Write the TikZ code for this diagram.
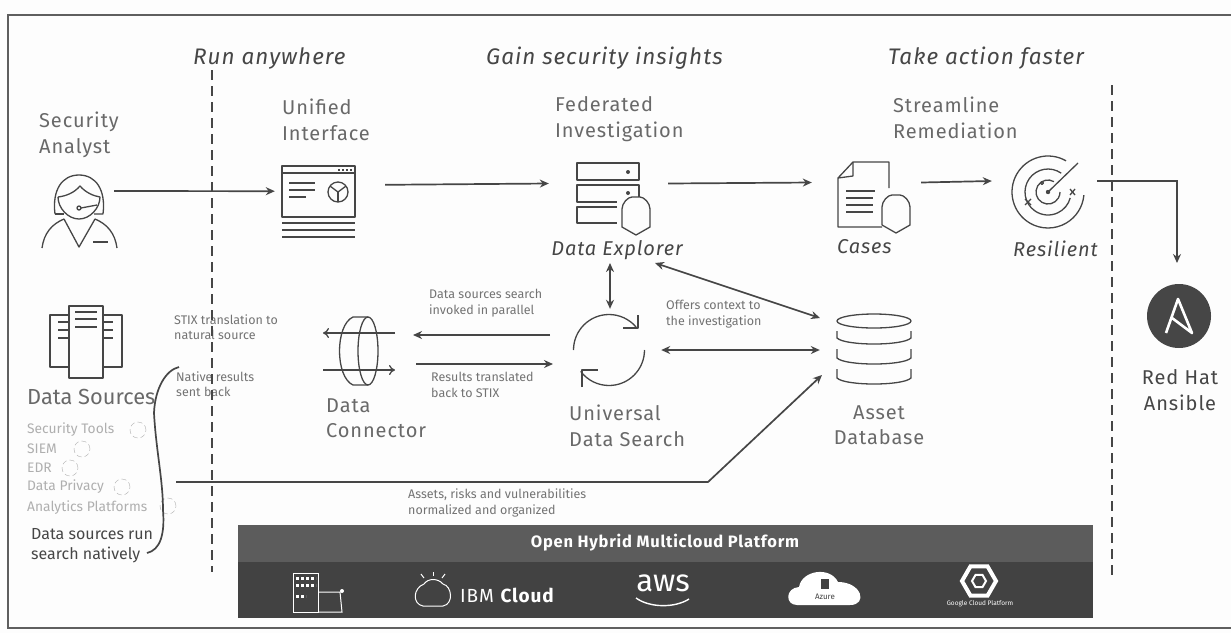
\documentclass[tikz,border=0pt]{standalone}
\usepackage{fontspec}
\setmainfont{Fira Sans}
\newfontfamily\widefont[LetterSpace=4.5]{Fira Sans}
\usetikzlibrary{arrows.meta}
\usetikzlibrary{shapes.geometric}
\definecolor{paper}{RGB}{253,253,253}
\definecolor{frame}{RGB}{95,95,95}
\definecolor{ink}{RGB}{70,70,70}
\definecolor{caption}{RGB}{105,105,105}
\definecolor{note}{RGB}{115,115,115}
\definecolor{faint}{RGB}{175,175,175}
\definecolor{bandtop}{RGB}{92,92,92}
\definecolor{bandlow}{RGB}{66,66,66}
\tikzset{
	heading/.style={font=\widefont\fontsize{22.5}{25}\selectfont\itshape,text=ink,inner sep=0pt},
	caption/.style={font=\widefont\fontsize{20}{25.5}\selectfont,text=caption,align=left,inner sep=0pt},
	tool/.style={font=\widefont\fontsize{20}{24}\selectfont\itshape,text=ink,inner sep=0pt},
	note/.style={font=\fontsize{12.5}{15.5}\selectfont,text=note,align=left,inner sep=0pt},
	source/.style={font=\fontsize{13.8}{15}\selectfont,text=faint,inner sep=0pt},
	spin/.style={draw=faint,dashed,dash pattern=on 5pt off 3pt,circle,minimum size=16pt,inner sep=0pt},
	spot/.style={inner sep=0pt,minimum width=#1,minimum height=6pt},
	icon/.style={draw=ink,line width=1.3pt,line join=round},
	flow/.style={draw=ink,line width=1.7pt,-{Stealth[length=9pt,width=8pt]}},
	both/.style={draw=ink,line width=1.7pt,{Stealth[length=9pt,width=8pt]}-{Stealth[length=9pt,width=8pt]}},
	split/.style={draw=ink,line width=1.8pt,dash pattern=on 10pt off 6pt},
	shield/.pic={
		\draw[icon,fill=paper] (0,-19) -- (14,-11) -- (14,7) .. controls (14,13) and (8,19) .. (4,19) -- (-4,19) .. controls (-8,19) and (-14,13) .. (-14,7) -- (-14,-11) -- cycle;
	}
}

\begin{document}
\begin{tikzpicture}[x=1pt,y=1pt,yscale=-1]
	\fill[paper] (0,0) rectangle (1231,633);
	\useasboundingbox (0,0) rectangle (1231,633);
	\draw[frame,line width=2.2pt] (1231,15) -- (8,15) -- (8,628) -- (1231,628);

	\node[heading,anchor=west] (Run) at (193,58) {Run anywhere};
	\node[heading,anchor=west] (Gain) at (486,58) {Gain security insights};
	\node[heading,anchor=west] (Take) at (888,58) {Take action faster};

	\node[caption,anchor=west] (AnalystT) at (39,135) {Security\\Analyst};
	\node[caption,anchor=west] (UnifiedT) at (282,120) {Unified\\Interface};
	\node[caption,anchor=west] (ExplorerT) at (555,119) {Federated\\Investigation};
	\node[caption,anchor=west] (CasesT) at (893,118) {Streamline\\Remediation};
	\node[tool] (ExplorerN) at (617,250) {Data Explorer};
	\node[tool,anchor=west] (CasesN) at (837,247) {Cases};
	\node[tool,anchor=west] (ResilientN) at (1013,249) {Resilient};
	\node[caption,anchor=west] (ConnectorT) at (326,418) {Data\\Connector};
	\node[caption,anchor=west] (SearchT) at (569,426) {Universal\\Data Search};
	\node[caption,align=center] (AssetT) at (879,425) {Asset\\Database};
	\node[caption,align=center,text=ink] (AnsibleT) at (1180,390) {Red Hat\\Ansible};
	\node[caption,anchor=west,font=\fontsize{21.8}{25}\selectfont] (SourcesT) at (27,397) {Data Sources};

	\node[note,anchor=west] (StixN) at (174,327) {STIX translation to\\natural source};
	\node[note,anchor=west] (NativeN) at (176,384) {Native results\\sent back};
	\node[note,anchor=west] (InvokeN) at (429,303) {Data sources search\\invoked in parallel};
	\node[note,anchor=west] (BackN) at (431,385) {Results translated\\back to STIX};
	\node[note,anchor=west] (OfferN) at (666,314) {Offers context to\\the investigation};
	\node[note,anchor=west] (RiskN) at (408,503) {Assets, risks and vulnerabilities\\normalized and organized};
	\node[caption,anchor=west,text=ink,font=\fontsize{16}{20}\selectfont] (NativeT) at (31,546) {Data sources run\\search natively};

	\node[source,anchor=west] (Tools) at (27,430) {Security Tools};
	\node[source,anchor=west] (Siem) at (27,449) {SIEM};
	\node[source,anchor=west] (Edr) at (27,468) {EDR};
	\node[source,anchor=west] (Privacy) at (27,487) {Data Privacy};
	\node[source,anchor=west] (Platforms) at (27,508) {Analytics Platforms};
	\node[spin] (ToolsS) at (138,430) {};
	\node[spin] (SiemS) at (82,449) {};
	\node[spin] (EdrS) at (70,468) {};
	\node[spin] (PrivacyS) at (122,487) {};
	\node[spin] (PlatformsS) at (168,506) {};

	\draw[split] (212,70) -- (212,572);
	\draw[split] (1112,85) -- (1112,577);

	% analyst
	\draw[icon] (55,214) .. controls (52,190) and (62,175) .. (79,175) .. controls (96,175) and (106,190) .. (103,214) -- (94,214);
	\draw[icon] (55,214) -- (64,214);
	\draw[icon] (58,197) .. controls (66,196) and (74,193) .. (80,186) .. controls (86,193) and (94,196) .. (100,197) .. controls (100,208) and (90,219) .. (79,219) .. controls (68,219) and (58,208) .. (58,197);
	\draw[icon] (42,248) .. controls (44,233) and (52,224) .. (64,219) -- (79,247) -- (95,219) .. controls (107,224) and (115,233) .. (117,248);
	\draw[icon] (93,242) -- (108,242);
	\draw[icon] (81,208) -- (97,205);
	\draw[icon] (79,208) circle (2pt);

	% unified interface
	\draw[icon] (282,166) rectangle (355,217);
	\draw[icon] (282,173) -- (355,173);
	\draw[icon,dash pattern=on 2pt off 2pt] (338,170) -- (353,170);
	\draw[icon] (289,183) -- (315,183);
	\draw[icon] (289,190) -- (315,190);
	\draw[icon] (289,197) -- (306,197);
	\draw[icon] (338,192) circle (10pt);
	\draw[icon] (338,192) -- (330,186);
	\draw[icon] (338,192) -- (346,186);
	\draw[icon] (338,192) -- (338,202);
	\draw[icon] (282,223) -- (355,223);
	\draw[icon] (282,230) -- (355,230);
	\draw[icon] (282,237) -- (355,237);

	% data explorer
	\draw[icon] (577,163) rectangle (639,180);
	\draw[icon] (639,197) -- (639,185) -- (577,185) -- (577,202) -- (617,202);
	\draw[icon] (617,207) -- (577,207) -- (577,223) -- (617,223);
	\fill[ink] (628,172) circle (2pt);
	\fill[ink] (628,193) circle (2pt);
	\pic at (636,216) {shield};

	% cases
	\draw[icon] (889,188) -- (889,162) -- (853,162) -- (838,178) -- (838,227) -- (882,227);
	\draw[icon] (853,162) -- (853,176) -- (838,178);
	\draw[icon] (846,191) -- (875,191);
	\draw[icon] (846,198) -- (873,198);
	\draw[icon] (846,205) -- (873,205);
	\draw[icon] (846,212) -- (873,212);
	\pic at (896,214) {shield};

	% resilient
	\coordinate (Target) at (1048,192);
	\draw[icon] (Target) ++(-60:36) arc[start angle=-60,end angle=-355,radius=36pt];
	\draw[icon] (Target) ++(-55:23) arc[start angle=-55,end angle=-345,radius=23pt];
	\draw[icon] (Target) ++(-60:12) arc[start angle=-60,end angle=-360,radius=12pt];
	\draw[icon] (Target) -- (1078,163);
	\fill[ink] (Target) circle (2.2pt);
	\draw[icon] (1042,183) circle (1.5pt);
	\draw[icon] (1070,189) -- (1075,195);
	\draw[icon] (1075,189) -- (1070,195);
	\draw[icon] (1025,199) -- (1031,205);
	\draw[icon] (1031,199) -- (1025,205);

	% asset database
	\draw[icon] (874,321) ellipse (37pt and 7pt);
	\draw[icon] (837,331) -- (837,338) .. controls (845,346) and (903,346) .. (911,338) -- (911,331);
	\draw[icon] (837,349) -- (837,358) .. controls (845,366) and (903,366) .. (911,358) -- (911,349);
	\draw[icon] (837,369) -- (837,378) .. controls (845,386) and (903,386) .. (911,378) -- (911,369);

	% data connector
	\draw[icon] (368,351) ellipse (10pt and 34pt);
	\draw[icon] (368,317) -- (353,317) .. controls (335,325) and (335,377) .. (353,385) -- (368,385);
	\draw[icon,-{To[length=6pt,width=10pt]}] (395,333) -- (323,333);
	\draw[icon,-{To[length=6pt,width=10pt]}] (323,370) -- (395,370);

	% universal data search
	\draw[icon] (573.5,350) arc[start angle=180,end angle=320,radius=35.5pt];
	\draw[icon] (638,315) -- (638,328) -- (623,328);
	\draw[icon] (644.5,350) arc[start angle=0,end angle=143,radius=35.5pt];
	\draw[icon] (582,387) -- (582,370) -- (598,370);

	% data sources
	\draw[icon] (69,306) rectangle (103,378);
	\draw[icon] (69,315) -- (50,315) -- (50,367) -- (69,367);
	\draw[icon] (103,315) -- (122,315) -- (122,367) -- (103,367);
	\draw[icon] (75,312) -- (97,312);
	\draw[icon] (75,319) -- (97,319);
	\draw[icon] (75,327) -- (97,327);
	\draw[icon] (58,322) -- (69,322);
	\draw[icon] (58,330) -- (69,330);
	\draw[icon] (58,338) -- (69,338);
	\draw[icon] (103,322) -- (113,322);
	\draw[icon] (103,330) -- (113,330);
	\draw[icon] (103,338) -- (113,338);
	\draw[ink,line width=1.7pt] (179,367) .. controls (166,370) and (155,388) .. (154,413) .. controls (156,450) and (163,480) .. (163,510) .. controls (165,535) and (160,550) .. (147,553);

	% ansible
	\node[circle,fill=ink,minimum size=64pt,inner sep=0pt] (Ansible) at (1179,316) {};
	\draw[white,line width=2.6pt,line join=round] (1166,333) -- (1178,299) -- (1192,333) -- (1172,318);

	% band
	\fill[bandlow] (238,525) rectangle (1093,618);
	\fill[bandtop] (238,525) rectangle (1093,562);
	\node[font=\widefont\fontsize{16.5}{19}\selectfont\bfseries,text=white,inner sep=0pt] (Band) at (665,543) {Open Hybrid Multicloud Platform};
	\draw[white,line width=1pt] (293,612) -- (293,573) -- (318,573) -- (318,612) -- cycle;
	\draw[white,line width=3pt,dash pattern=on 3pt off 2pt] (296,578) -- (316,578);
	\draw[white,line width=3pt,dash pattern=on 3pt off 2pt] (296,585) -- (316,585);
	\draw[white,line width=3pt,dash pattern=on 3pt off 2pt] (296,596) -- (306,596);
	\draw[white,line width=1pt] (318,592) -- (340,592) -- (342,612) -- (318,612);
	\fill[white] (342,591) circle (2pt);
	\draw[white,line width=1pt] (424,584) .. controls (428,578) and (438,578) .. (443,584) .. controls (452,586) and (454,604) .. (443,606) -- (423,606) .. controls (412,604) and (413,588) .. (424,584);
	\draw[white,line width=1pt] (433,572) -- (433,576);
	\draw[white,line width=1pt] (421,574) -- (424,578);
	\draw[white,line width=1pt] (445,574) -- (442,578);
	\node[font=\widefont\fontsize{19}{22}\selectfont,text=white,anchor=west,inner sep=0pt] (IbmCloud) at (460,595) {IBM \textbf{Cloud}};
	\node[font=\fontsize{31}{34}\selectfont,text=white,inner sep=0pt] (Aws) at (663,583) {aws};
	\draw[white,line width=1.4pt] (636,598) .. controls (650,608) and (675,608) .. (689,599);
	\fill[white] (797,605) .. controls (785,605) and (785,588) .. (799,587) .. controls (802,570) and (830,566) .. (838,582) .. controls (862,582) and (868,605) .. (850,605) -- cycle;
	\node[font=\fontsize{8}{9}\selectfont,text=bandlow,inner sep=0pt] (Azure) at (825,597) {Azure};
	\fill[bandlow] (821,579) rectangle (829,589);
	\node[regular polygon,regular polygon sides=6,draw=white,line width=4pt,minimum size=34pt,inner sep=0pt] (Google) at (979,581) {};
	\node[regular polygon,regular polygon sides=6,draw=white,line width=2pt,minimum size=14pt,inner sep=0pt] (GoogleC) at (979,581) {};
	\node[font=\fontsize{6.5}{8}\selectfont,text=white,inner sep=0pt] (GoogleT) at (980,604) {Google Cloud Platform};

	% connectors
	\node[spot=72pt] (Analyst) at (78,191) {};
	\node[spot=110pt] (Unified) at (330,188) {};
	\node[spot=119pt] (Explorer) at (608.5,183.5) {};
	\node[spot=109pt] (Cases) at (866.5,182.5) {};
	\node[spot=105pt] (Resilient) at (1044.5,181) {};
	\node[spot=102pt,minimum height=82pt] (Search) at (610,350) {};
	\node[spot=120pt] (Asset) at (880,350) {};
	\coordinate (ExplorerS) at (610,263);
	\coordinate (ExplorerE) at (655,263);
	\coordinate (SearchA) at (550,335);
	\coordinate (SearchB) at (553,364);
	\coordinate (ConnectorA) at (413,335);
	\coordinate (ConnectorB) at (416,364);
	\coordinate (AssetA) at (820,318);
	\coordinate (AssetB) at (822,375);
	\coordinate (AnsibleA) at (1177,263);
	\coordinate (RiskA) at (176,482);
	\coordinate (RiskB) at (708,482);
	\draw[flow] (Analyst.east) -- (Unified.south west);
	\draw[flow] (Unified.north east) -- (Explorer.west);
	\draw[flow] (Explorer.east) -- (Cases.west);
	\draw[flow] (Cases.east) -- (Resilient.west);
	\draw[flow] (Resilient.east) -| (AnsibleA);
	\draw[both] (ExplorerS) -- (Search.north);
	\draw[both] (ExplorerE) -- (AssetA);
	\draw[both] (Search.east) -- (Asset.west);
	\draw[flow] (SearchA) -- (ConnectorA);
	\draw[flow] (ConnectorB) -- (SearchB);
	\draw[flow] (RiskA) -- (RiskB) -- (AssetB);
\end{tikzpicture}
\end{document}
